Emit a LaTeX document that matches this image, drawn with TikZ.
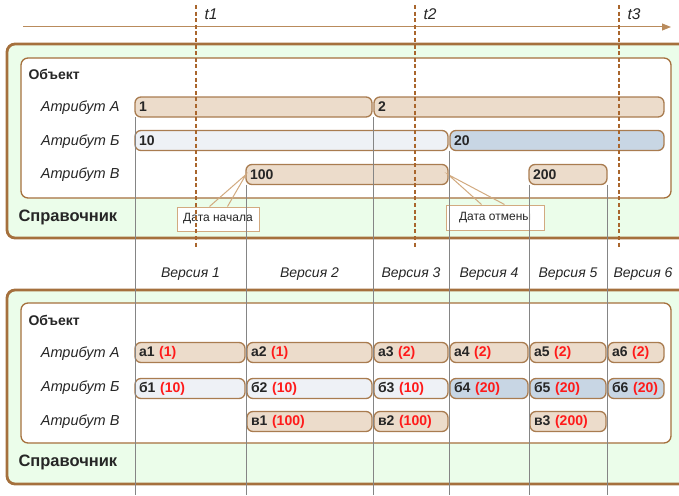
\documentclass[tikz,border=0pt]{standalone}
\usepackage{fontspec}
\setmainfont{Liberation Sans}
\usetikzlibrary{arrows.meta}
\definecolor{boxbrown}{HTML}{A5703D}
\definecolor{barbrown}{HTML}{A97C50}
\definecolor{callbrown}{HTML}{D2AA80}
\definecolor{tanfill}{HTML}{ECDCCB}
\definecolor{palefill}{HTML}{EEF1F6}
\definecolor{bluefill}{HTML}{C8D6E4}
\definecolor{refgreen}{HTML}{EBFDEA}
\definecolor{tdots}{HTML}{A9662D}
\definecolor{arrowtan}{HTML}{B98B5C}
\definecolor{valred}{HTML}{FF1A1A}
\definecolor{vgray}{HTML}{858585}
\begin{document}
\begin{tikzpicture}[x=1pt, y=-1pt,
        every node/.style={font=\fontsize{14}{16}\selectfont, text=black!85},
        refbox/.style={draw=boxbrown, line width=2.8pt, fill=refgreen, rounded corners=8pt},
        objbox/.style={draw=boxbrown, line width=1.3pt, fill=white, rounded corners=7pt},
        bar/.style={draw=barbrown, line width=1.3pt, rounded corners=6pt, anchor=west, outer sep=0pt,
            minimum height=20pt, inner xsep=4pt, inner ysep=0pt, align=left,
            font=\fontsize{14}{16}\selectfont\bfseries},
        attr/.style={anchor=east, font=\fontsize{14.5}{16}\selectfont\itshape},
        title/.style={anchor=west, font=\fontsize{14}{16}\selectfont\bfseries},
        reftitle/.style={anchor=west, font=\fontsize{16.5}{18}\selectfont\bfseries},
        version/.style={font=\fontsize{14}{16}\selectfont\itshape},
        note/.style={draw=callbrown, line width=1pt, fill=white, inner sep=0pt,
            font=\fontsize{12}{14}\selectfont},
        tail/.style={draw=callbrown, line width=1pt},
        vline/.style={draw=vgray, line width=0.9pt},
        tline/.style={draw=tdots, line width=2.6pt, dash pattern=on 4pt off 2.6pt},
        tlabel/.style={anchor=west, font=\fontsize{15.5}{18}\selectfont\itshape},
    ]
    \useasboundingbox (0,0) rectangle (679,495);

    % time axis
    \coordinate (tstart) at (23,27);
    \coordinate (tend) at (671,27);
    \draw[arrowtan, line width=1pt, -{Triangle[length=9pt,width=7pt]}] (tstart) -- (tend);

    % reference book, top
    \draw[refbox] (7,44) rectangle (700,238);
    \draw[objbox] (21,58) rectangle (671,198);
    \node[title] (obj1) at (25,74) {Объект};
    \node[reftitle] (ref1) at (15,217) {Справочник};
    \node[attr] (la1) at (123,108) {Атрибут А};
    \node[attr] (lb1) at (123,142) {Атрибут Б};
    \node[attr] (lv1) at (123,175) {Атрибут В};

    \foreach \name/\xa/\xb/\y/\col/\txt in {
            A1/135/372/107/tanfill/1, A2/374/664/107/tanfill/2,
            B1/135/448/140.5/palefill/10, B2/450/664/140.5/bluefill/20,
            V1/246/448/174.5/tanfill/100, V2/529/607/174.5/tanfill/200}
        \node[bar, fill=\col, text width={\xb-\xa-8}] (\name) at (\xa,\y) {\txt};

    % notes
    \node[note, minimum width=82pt, minimum height=24pt] (startnote) at (218,219) {Дата начала};
    \node[note, minimum width=98pt, minimum height=25pt] (endnote) at (495,217.5) {Дата отмены};
    \draw[tail] ([xshift=33pt]startnote.north west) -- (V1.west) -- ([xshift=51pt]startnote.north west);
    \draw[tail] ([xshift=36pt]endnote.north west) -- (V1.east) -- ([xshift=59pt]endnote.north west);

    % versions, bottom
    \draw[refbox] (7,290) rectangle (700,484);
    \draw[objbox] (21,303) rectangle (671,443);
    \node[title] (obj2) at (25,320) {Объект};
    \node[reftitle] (ref2) at (15,462) {Справочник};
    \node[attr] (la2) at (123,354) {Атрибут А};
    \node[attr] (lb2) at (123,388) {Атрибут Б};
    \node[attr] (lv2) at (123,422) {Атрибут В};

    \foreach \n/\x in {1/190.5, 2/309.5, 3/411, 4/489, 5/568, 6/643}
        \node[version] (ver\n) at (\x,274) {Версия \n};

    \foreach \name/\xa/\xb/\y/\col/\key/\val in {
            a1/135/245/352.5/tanfill/а1/1, a2/247/372/352.5/tanfill/а2/1,
            a3/374/448/352.5/tanfill/а3/2, a4/450/528/352.5/tanfill/а4/2,
            a5/530/606/352.5/tanfill/а5/2, a6/608/664/352.5/tanfill/а6/2,
            b1/135/245/388.5/palefill/б1/10, b2/247/372/388.5/palefill/б2/10,
            b3/374/448/388.5/palefill/б3/10, b4/450/528/388.5/bluefill/б4/20,
            b5/530/606/388.5/bluefill/б5/20, b6/608/664/388.5/bluefill/б6/20,
            v1/247/372/421.5/tanfill/в1/100, v2/374/448/421.5/tanfill/в2/100,
            v3/530/606/421.5/tanfill/в3/200}
        \node[bar, fill=\col, text width={\xb-\xa-8}] (\name) at (\xa,\y) {\key\ \textcolor{valred}{(\val)}};

    % version borders
    \coordinate (bot) at (0,495);
    \draw[vline] (A1.south west) -- (A1.south west |- bot);
    \draw[vline] (V1.south west) -- (V1.south west |- bot);
    \draw[vline] ([xshift=-1pt]A2.south west) -- ([xshift=-1pt]A2.south west |- bot);
    \draw[vline] ([xshift=-1pt]B2.south west) -- ([xshift=-1pt]B2.south west |- bot);
    \draw[vline] (V2.south west) -- (V2.south west |- bot);
    \draw[vline] (V2.south east) -- (V2.south east |- bot);

    % moments
    \foreach \t/\x in {t1/196, t2/415, t3/619} {
        \coordinate (\t top) at (\x,5);
        \coordinate (\t bot) at (\x,249);
        \draw[tline] (\t top) -- (\t bot);
        \node[tlabel] (\t lab) at (\x+5,14) {\t};
    }
\end{tikzpicture}
\end{document}
